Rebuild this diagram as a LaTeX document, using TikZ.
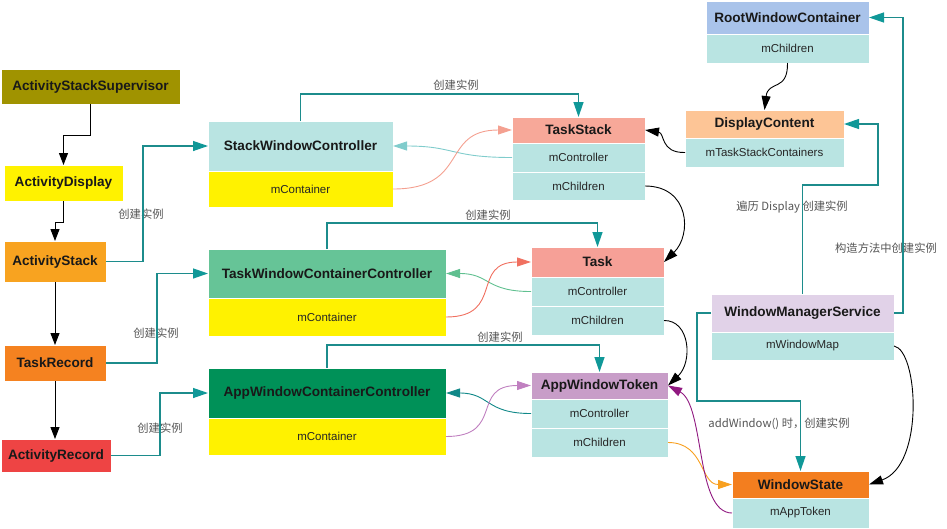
\documentclass[tikz,border=0pt]{standalone}
\usepackage{fontspec}
\setmainfont{Liberation Sans}
\newfontfamily\cjk{Noto Sans CJK SC}
\usetikzlibrary{arrows.meta}
\definecolor{fieldc}{HTML}{B9E4E2}
\definecolor{assc}{HTML}{A09300}
\definecolor{adc}{HTML}{FFF200}
\definecolor{asc}{HTML}{F8A320}
\definecolor{trc}{HTML}{F58220}
\definecolor{arc}{HTML}{EE4444}
\definecolor{ylw}{HTML}{FFF200}
\definecolor{twccc}{HTML}{66C497}
\definecolor{awccc}{HTML}{009158}
\definecolor{tsc}{HTML}{F7A899}
\definecolor{taskc}{HTML}{F6A097}
\definecolor{awtc}{HTML}{C89DC8}
\definecolor{rwcc}{HTML}{A9C3EA}
\definecolor{dcc}{HTML}{FDC596}
\definecolor{wmsc}{HTML}{E1D2E8}
\definecolor{wsc}{HTML}{F37E1F}
\definecolor{tealc}{HTML}{1C8C8C}
\definecolor{tealh}{HTML}{109898}
\definecolor{lblc}{HTML}{555555}
\definecolor{c1}{HTML}{80CCCC}
\definecolor{c2}{HTML}{F4A090}
\definecolor{c3}{HTML}{60C090}
\definecolor{c4}{HTML}{F07060}
\definecolor{c5}{HTML}{108888}
\definecolor{c6}{HTML}{C080C0}
\definecolor{c7}{HTML}{F8A020}
\definecolor{c8}{HTML}{901880}
\tikzset{
  hdr/.style={draw=white, line width=1pt, inner sep=0pt, outer sep=0pt,
    font=\fontsize{13.6}{16}\selectfont\bfseries, text=black!90},
  fld/.style={draw=white, line width=1pt, inner sep=0pt, outer sep=0pt, fill=fieldc,
    font=\fontsize{11.5}{14}\selectfont, text=black!85},
  lbl/.style={font=\cjk\fontsize{11.3}{14}\selectfont, text=lblc, inner sep=0pt},
  tl/.style={draw=tealc, line width=1.3pt, -{Triangle[length=15pt,width=10pt,color=tealh]}},
  bk/.style={draw=black, line width=1pt, -{Triangle[length=12pt,width=9pt]}},
  cv/.style={line width=0.9pt, -{Triangle[length=14pt,width=9pt]}},
}
\begin{document}
\begin{tikzpicture}[x=1pt,y=-1pt]
\useasboundingbox (0,0) rectangle (947,528);
% left column
\node[hdr, fill=assc, minimum width=179pt, minimum height=35pt] (ass) at (90.5,86.5) {ActivityStackSupervisor};
\node[hdr, fill=adc, minimum width=119pt, minimum height=36pt] (ad) at (63.5,183) {ActivityDisplay};
\node[hdr, fill=asc, minimum width=102pt, minimum height=41pt] (as) at (55,261.5) {ActivityStack};
\node[hdr, fill=trc, minimum width=102pt, minimum height=36pt] (tr) at (55,363) {TaskRecord};
\node[hdr, fill=arc, minimum width=110pt, minimum height=33pt] (ar) at (56,455.5) {ActivityRecord};
% controllers
\node[hdr, fill=fieldc, minimum width=185pt, minimum height=50pt] (swc) at (300.5,146) {StackWindowController};
\node[fld, fill=ylw, minimum width=185pt, minimum height=36pt] (swcm) at (300.5,189) {mContainer};
\node[hdr, fill=twccc, minimum width=238pt, minimum height=49pt] (twcc) at (327,273.5) {TaskWindowContainerController};
\node[fld, fill=ylw, minimum width=238pt, minimum height=38pt] (twccm) at (327,317) {mContainer};
\node[hdr, fill=awccc, minimum width=238pt, minimum height=50pt] (awcc) at (327,393) {AppWindowContainerController};
\node[fld, fill=ylw, minimum width=238pt, minimum height=37pt] (awccm) at (327,436.5) {mContainer};
% containers
\node[hdr, fill=tsc, minimum width=133pt, minimum height=26pt] (ts) at (578.5,130) {TaskStack};
\node[fld, minimum width=133pt, minimum height=29pt] (tsctl) at (578.5,157.5) {mController};
\node[fld, minimum width=133pt, minimum height=28pt] (tsch) at (578.5,186) {mChildren};
\node[hdr, fill=taskc, minimum width=133pt, minimum height=30pt] (task) at (597.5,262) {Task};
\node[fld, minimum width=133pt, minimum height=29pt] (taskctl) at (597.5,291.5) {mController};
\node[fld, minimum width=133pt, minimum height=29pt] (taskch) at (597.5,320.5) {mChildren};
\node[hdr, fill=awtc, minimum width=137pt, minimum height=27pt] (awt) at (599.5,385.5) {AppWindowToken};
\node[fld, minimum width=137pt, minimum height=29pt] (awtctl) at (599.5,413.5) {mController};
\node[fld, minimum width=137pt, minimum height=29pt] (awtch) at (599.5,442.5) {mChildren};
% right column
\node[hdr, fill=rwcc, minimum width=163pt, minimum height=33pt] (rwc) at (787.5,17.5) {RootWindowContainer};
\node[fld, minimum width=163pt, minimum height=29pt] (rwcch) at (787.5,48.5) {mChildren};
\node[hdr, fill=dcc, minimum width=159pt, minimum height=28pt] (dc) at (764.5,124) {DisplayContent};
\node[fld, minimum width=159pt, minimum height=29pt] (dctsc) at (764.5,152.5) {mTaskStackContainers};
\node[hdr, fill=wmsc, minimum width=183pt, minimum height=38pt] (wms) at (802.5,313) {WindowManagerService};
\node[fld, minimum width=183pt, minimum height=28pt] (wmsmap) at (802.5,346) {mWindowMap};
\node[hdr, fill=wsc, minimum width=137pt, minimum height=27pt] (ws) at (800.5,484.5) {WindowState};
\node[fld, minimum width=137pt, minimum height=30pt] (wsat) at (800.5,513) {mAppToken};
% labels
\node[lbl] (l1) at (141,214) {创建实例};
\node[lbl] (l2) at (156,333) {创建实例};
\node[lbl] (l3) at (160,428) {创建实例};
\node[lbl] (l4) at (456,85) {创建实例};
\node[lbl] (l5) at (488,215) {创建实例};
\node[lbl] (l6) at (500,337) {创建实例};
\node[lbl] (l7) at (792,207) {遍历 Display 创建实例};
\node[lbl] (l8) at (886,248) {构造方法中创建实例};
\node[lbl] (l9) at (779,424) {addWindow() 时，创建实例};
% black orthogonal arrows (left column)
\draw[bk] (ass.south) -- ++(0,31) -| (ad.north);
\draw[bk] (ad.south) -- ++(0,21) -| (as.north);
\draw[bk] (as.south) -- (tr.north);
\draw[bk] (tr.south) -- (tr.south |- ar.north);
% teal creation arrows
\draw[tl] (as.east) -- ++(37,0) |- (swc.west);
\draw[tl] (tr.east) -- ++(51,0) |- (twcc.west);
\draw[tl] (ar.east) -- ++(49,0) |- (awcc.west);
\draw[tl] (swc.north) -- ++(0,-27) -| (ts.north);
\draw[tl] (twcc.north) -- ++(0,-26) -| (task.north);
\draw[tl] (awcc.north) -- ++(0,-23) -| (awt.north);
\draw[tl] (wms.north) -- ++(0,-109) -- ++(75.5,0) |- (dc.east);
\draw[tl] (wms.east) -- ++(9,0) |- (rwc.east);
\draw[tl] (wms.west) -- ++(-14,0) -- ++(0,88) -| (ws.north);
% controller/container curves
\draw[cv, c1] (tsctl.west) .. controls (450,157.5) and (455,146) .. (swc.east);
\draw[cv, c2] (swcm.east) .. controls (470,189) and (440,130) .. (ts.west);
\draw[cv, c3] (taskctl.west) .. controls (485,291.5) and (490,273.5) .. (twcc.east);
\draw[cv, c4] (twccm.east) .. controls (505,317) and (470,262) .. (task.west);
\draw[cv, c5] (awtctl.west) .. controls (485,413.5) and (490,393) .. (awcc.east);
\draw[cv, c6] (awccm.east) .. controls (505,436.5) and (470,385.5) .. (awt.west);
% black curves
\draw[cv, black] (tsch.east) .. controls (690,186) and (692,235) .. (task.east);
\draw[cv, black] (taskch.east) .. controls (690,320) and (693,362) .. (awt.east);
\draw[cv, black] (dctsc.west) .. controls (660,153) and (665,133) .. (ts.east);
\draw[cv, black] (rwcch.south) .. controls (788,92) and (768,80) .. (dc.north);
\draw[cv, black] (wmsmap.east) .. controls (918,350) and (925,465) .. (ws.east);
% orange / purple curves
\draw[cv, c7] (awtch.east) .. controls (705,442.5) and (700,484.5) .. (ws.west);
\draw[cv, c8] (wsat.west) .. controls (695,513) and (705,405) .. (awt.east);
\end{tikzpicture}
\end{document}
